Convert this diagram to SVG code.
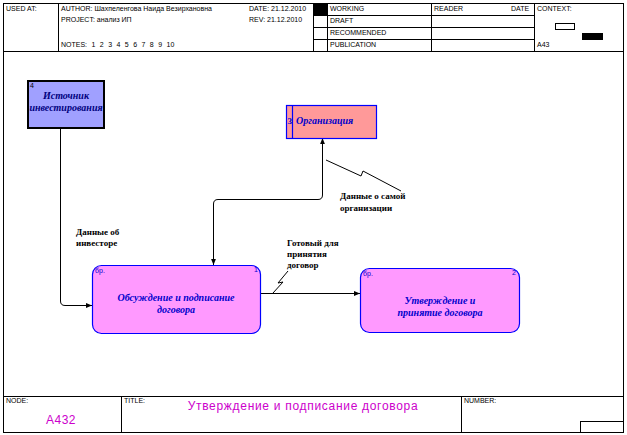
<svg xmlns="http://www.w3.org/2000/svg" width="627" height="435" viewBox="0 0 627 435">
<defs>
<style>
.f{fill:none;stroke:#000;stroke-width:1}
.h{font-family:"Liberation Sans",Arial,sans-serif;font-size:7px;fill:#000}
.lbl{font-family:"Liberation Serif","Times New Roman",serif;font-size:9px;font-weight:bold;fill:#000}
.nt{font-family:"Liberation Serif","Times New Roman",serif;font-size:10px;font-weight:bold;font-style:italic;fill:#0000cc;text-anchor:middle}
.sm{font-family:"Liberation Sans",Arial,sans-serif;font-size:7px;fill:#0000cc}
.ln{fill:none;stroke:#000;stroke-width:1}
.act{fill:#ff99ff;stroke:#0000ff;stroke-width:1.2}
</style>
<marker id="ah" viewBox="0 0 10 10" refX="10" refY="5" markerWidth="6" markerHeight="6" orient="auto-start-reverse" markerUnits="userSpaceOnUse">
<path d="M0,1 L10,5 L0,9 z" fill="#000"/>
</marker>
</defs>
<rect width="627" height="435" fill="#fff"/>
<g id="frame">
<rect class="f" x="3.5" y="3.5" width="620" height="429"/>
<line class="f" x1="3.5" y1="51.5" x2="623.5" y2="51.5"/>
<line class="f" x1="58.5" y1="3.5" x2="58.5" y2="51.5"/>
<line class="f" x1="313.5" y1="3.5" x2="313.5" y2="51.5"/>
<line class="f" x1="327.5" y1="3.5" x2="327.5" y2="51.5"/>
<line class="f" x1="431.5" y1="3.5" x2="431.5" y2="51.5"/>
<line class="f" x1="534.5" y1="3.5" x2="534.5" y2="51.5"/>
<line class="f" x1="313.5" y1="15.5" x2="534.5" y2="15.5"/>
<line class="f" x1="313.5" y1="27.5" x2="534.5" y2="27.5"/>
<line class="f" x1="313.5" y1="39.5" x2="534.5" y2="39.5"/>
<rect x="314" y="4" width="13" height="11" fill="#000"/>
<rect class="f" x="555.5" y="23.5" width="19" height="6"/>
<rect x="582" y="33" width="21" height="7" fill="#000"/>
<text class="h" x="6" y="11">USED AT:</text>
<text class="h" x="61" y="11">AUTHOR: Шахпеленгова Наида Везирхановна</text>
<text class="h" x="249" y="11">DATE: 21.12.2010</text>
<text class="h" x="61" y="22">PROJECT: анализ ИП</text>
<text class="h" x="249" y="22">REV: 21.12.2010</text>
<text class="h" x="61" y="47" word-spacing="2.5">NOTES: 1 2 3 4 5 6 7 8 9 10</text>
<text class="h" x="330" y="11">WORKING</text>
<text class="h" x="330" y="23">DRAFT</text>
<text class="h" x="330" y="35">RECOMMENDED</text>
<text class="h" x="330" y="47">PUBLICATION</text>
<text class="h" x="434" y="11">READER</text>
<text class="h" x="511" y="11">DATE</text>
<text class="h" x="537" y="11">CONTEXT:</text>
<text class="h" x="537" y="47">A43</text>
<line class="f" x1="3.5" y1="396.5" x2="623.5" y2="396.5"/>
<line class="f" x1="121.5" y1="396.5" x2="121.5" y2="432.5"/>
<line class="f" x1="461.5" y1="396.5" x2="461.5" y2="432.5"/>
<rect class="f" x="580.5" y="421.5" width="43" height="11"/>
<text class="h" x="6" y="403">NODE:</text>
<text class="h" x="124" y="403">TITLE:</text>
<text class="h" x="464" y="403">NUMBER:</text>
<text x="61" y="424" font-family="Liberation Sans,Arial,sans-serif" font-size="12" fill="#cc00cc" text-anchor="middle" letter-spacing="0.5">A432</text>
<text x="303" y="410" font-family="Liberation Sans,Arial,sans-serif" font-size="12" fill="#cc00cc" text-anchor="middle" letter-spacing="0.7">Утверждение и подписание договора</text>
</g>
<g id="connectors">
<path class="ln" d="M60.5,128 V301 Q60.5,305.5 65,305.5 H92" marker-end="url(#ah)"/>
<path class="ln" d="M213.5,265 V204 Q213.5,199.5 218,199.5 H318 Q322.5,199.5 322.5,195 V138" marker-start="url(#ah)" marker-end="url(#ah)"/>
<path class="ln" d="M260,293.5 H360" marker-end="url(#ah)"/>
<path class="ln" d="M326,160 L361,176 L363,171 L401,191"/>
<path class="ln" d="M273,293 L283,282 L278,283 L288,271"/>
<text class="lbl" x="340" y="199">Данные о самой</text>
<text class="lbl" x="340" y="211">организации</text>
<text class="lbl" x="76" y="235">Данные об</text>
<text class="lbl" x="76" y="246">инвесторе</text>
<text class="lbl" x="287" y="246">Готовый для</text>
<text class="lbl" x="287" y="257">принятия</text>
<text class="lbl" x="287" y="268">договор</text>
</g>
<g id="node-source">
<rect x="28" y="81" width="76" height="47" fill="#a0a0ff" stroke="#000" stroke-width="2"/>
<text x="30" y="88" font-family="Liberation Sans,Arial,sans-serif" font-size="7" fill="#000">4</text>
<text class="nt" x="66" y="99" style="fill:#000080">Источник</text>
<text class="nt" x="66" y="111" style="fill:#000080">инвестирования</text>
</g>
<g id="node-org">
<rect x="286.5" y="105.5" width="90" height="33" fill="#ff9999" stroke="#0000ff" stroke-width="1.2"/>
<line x1="292.5" y1="105.5" x2="292.5" y2="138.5" stroke="#0000ff" stroke-width="1.2"/>
<text x="287.5" y="124" font-family="Liberation Serif,serif" font-weight="bold" font-size="9" fill="#0000cc">3</text>
<text class="nt" x="296" y="124" style="text-anchor:start">Организация</text>
</g>
<g id="node-a1">
<rect class="act" x="92.5" y="265.5" width="168" height="68" rx="9" ry="9"/>
<text class="sm" x="95" y="273">бр.</text>
<text class="sm" x="254" y="272">1</text>
<text class="nt" x="176" y="301">Обсуждение и подписание</text>
<text class="nt" x="176" y="313">договора</text>
</g>
<g id="node-a2">
<rect class="act" x="360.5" y="268.5" width="159" height="64" rx="9" ry="9"/>
<text class="sm" x="363" y="276">бр.</text>
<text class="sm" x="512" y="275">2</text>
<text class="nt" x="440" y="304">Утверждение и</text>
<text class="nt" x="440" y="316">принятие договора</text>
</g>
</svg>
